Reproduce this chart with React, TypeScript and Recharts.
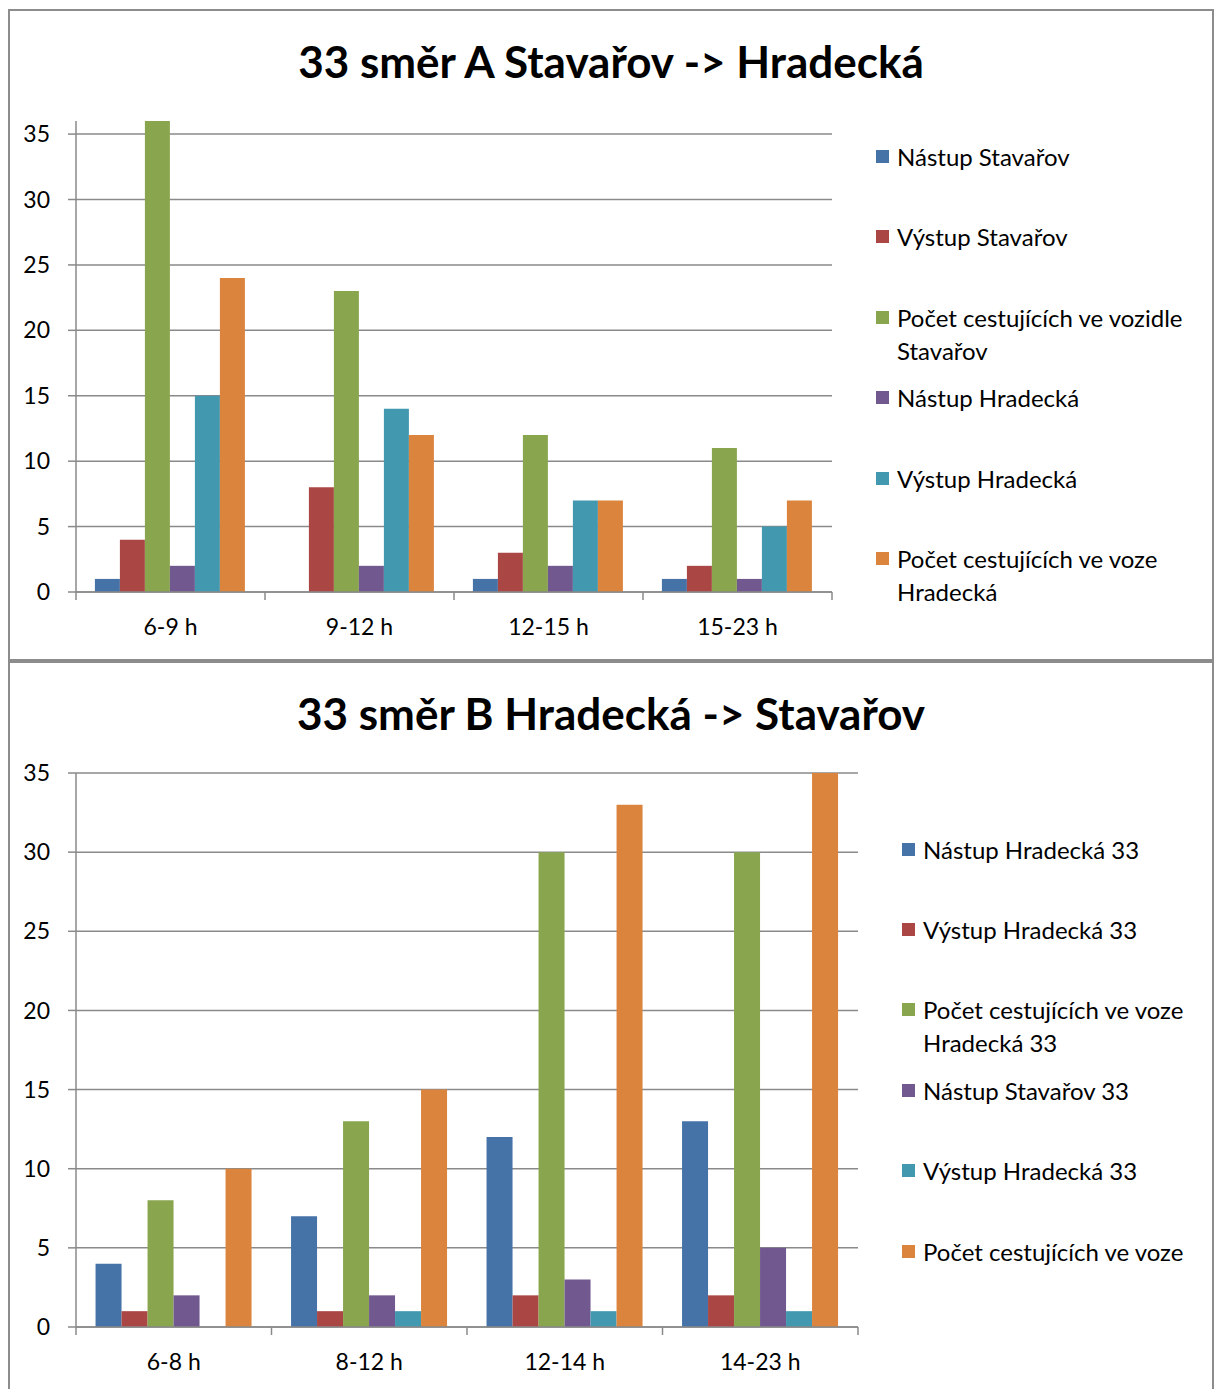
import React from 'react';
import { BarChart, Bar, XAxis, YAxis, CartesianGrid } from 'recharts';

// ---- Chart A data ----
const titleA = '33 směr A Stavařov -> Hradecká';
const catsA = ['6-9 h', '9-12 h', '12-15 h', '15-23 h'];
const namesA = [
  'Nástup Stavařov',
  'Výstup Stavařov',
  'Počet cestujících ve vozidle Stavařov',
  'Nástup Hradecká',
  'Výstup Hradecká',
  'Počet cestujících ve voze Hradecká',
];
const a1 = [1, 0, 1, 1];
const a2 = [4, 8, 3, 2];
const a3 = [36, 23, 12, 11];
const a4 = [2, 2, 2, 1];
const a5 = [15, 14, 7, 5];
const a6 = [24, 12, 7, 7];

// ---- Chart B data ----
const titleB = '33 směr B Hradecká -> Stavařov';
const catsB = ['6-8 h', '8-12 h', '12-14 h', '14-23 h'];
const namesB = [
  'Nástup Hradecká 33',
  'Výstup Hradecká 33',
  'Počet cestujících ve voze Hradecká 33',
  'Nástup Stavařov 33',
  'Výstup Hradecká 33',
  'Počet cestujících ve voze',
];
const b1 = [4, 7, 12, 13];
const b2 = [1, 1, 2, 2];
const b3 = [8, 13, 30, 30];
const b4 = [2, 2, 3, 5];
const b5 = [0, 1, 1, 1];
const b6 = [10, 15, 33, 35];

const yTicks = [0, 5, 10, 15, 20, 25, 30, 35];
const colors = ['#4572A7', '#AA4643', '#89A54E', '#71588F', '#4198AF', '#DB843D'];
const FONT = 'Lato, "Open Sans", sans-serif';
const GRID = '#8a8a8a';

function buildRows(cats: string[], series: number[][]) {
  return cats.map((c, i) => {
    const row: any = { cat: c };
    series.forEach((s, k) => (row['s' + k] = s[i]));
    return row;
  });
}

const TICK_SIZE = 8;
const TICK_MARGIN = 19;
const Y_W = 66;

const makeTick = (band: number, count: number) => (props: any) => {
  const { x, y, payload, index } = props;
  const axisY = y - TICK_SIZE - TICK_MARGIN;
  return (
    <g>
      <line x1={x - band / 2} x2={x - band / 2} y1={axisY} y2={axisY + 8} stroke={GRID} strokeWidth={1.5} />
      {index === count - 1 && (
        <line x1={x + band / 2} x2={x + band / 2} y1={axisY} y2={axisY + 8} stroke={GRID} strokeWidth={1.5} />
      )}
      <text x={x} y={y} dy="0.71em" textAnchor="middle" fontSize={23} fontFamily={FONT} fill="#000">
        {payload.value}
      </text>
    </g>
  );
};

type PanelProps = {
  title: string;
  cats: string[];
  names: string[];
  series: number[][];
  top: number;
  outerH: number;
  chartH: number;
  rightMargin: number;
  bottomPlot: number;
  yMax: number;
  legendTop: number;
  legendLeft: number;
  legendSpacing: number;
  bottomBorder: boolean;
};

function Panel(p: PanelProps) {
  const W = 1202;
  const rows = buildRows(p.cats, p.series);
  const plotW = W - Y_W - p.rightMargin;
  const band = plotW / p.cats.length;
  const xAxisH = 50;
  const B = '2px solid #8c8c8c';
  return (
    <div
      style={{
        position: 'absolute',
        left: 0,
        top: p.top,
        width: W,
        height: p.outerH,
        borderLeft: B,
        borderRight: B,
        borderTop: B,
        borderBottom: p.bottomBorder ? B : 'none',
        background: '#fff',
        overflow: 'hidden',
      }}
    >
      <div
        style={{
          position: 'absolute',
          left: 0,
          width: W,
          top: 24,
          textAlign: 'center',
          fontFamily: FONT,
          fontWeight: 'bold',
          fontSize: 44,
          lineHeight: '52px',
          color: '#000',
        }}
      >
        {p.title}
      </div>
      <div
        style={{
          position: 'absolute',
          left: p.legendLeft,
          top: p.legendTop,
          fontFamily: FONT,
          fontSize: 24,
          color: '#000',
        }}
      >
        {p.names.map((n, i) => (
          <div
            key={i}
            style={{ position: 'absolute', left: 0, top: i * p.legendSpacing, width: 316, display: 'flex', lineHeight: '33px' }}
          >
            <div style={{ width: 13, height: 13, background: colors[i], marginTop: 10, marginRight: 8, flexShrink: 0 }} />
            <div style={{ width: 295 }}>{n}</div>
          </div>
        ))}
      </div>
      <div style={{ position: 'absolute', left: 0, top: 0 }}>
        <BarChart
          width={W}
          height={p.chartH}
          data={rows}
          margin={{ top: 110, right: p.rightMargin, left: 0, bottom: p.chartH - p.bottomPlot - xAxisH }}
          barCategoryGap="10%"
          barGap={0}
        >
          <CartesianGrid vertical={false} horizontalValues={yTicks} stroke={GRID} strokeWidth={1.5} />
          <XAxis
            dataKey="cat"
            stroke={GRID}
            strokeWidth={1.5}
            tickLine={false}
            tickSize={TICK_SIZE}
            tickMargin={TICK_MARGIN}
            height={xAxisH}
            interval={0}
            tick={makeTick(band, p.cats.length)}
          />
          <YAxis
            width={Y_W}
            domain={[0, p.yMax]}
            ticks={yTicks}
            interval={0}
            stroke={GRID}
            strokeWidth={1.5}
            tickSize={8}
            tickMargin={18}
            tick={{ fontSize: 23, fontFamily: FONT, fill: '#000' }}
          />
          {p.names.map((n, k) => (
            <Bar key={k} dataKey={'s' + k} name={n} fill={colors[k]} isAnimationActive={false} />
          ))}
        </BarChart>
      </div>
    </div>
  );
}

export default function App() {
  return (
    <div style={{ position: 'relative', width: 1206, height: 1381 }}>
      <Panel
        title={titleA}
        cats={catsA}
        names={namesA}
        series={[a1, a2, a3, a4, a5, a6]}
        top={1}
        outerH={648}
        chartH={648}
        rightMargin={380}
        bottomPlot={581}
        yMax={36}
        legendTop={128.5}
        legendLeft={866}
        legendSpacing={80.5}
        bottomBorder={true}
      />
      <Panel
        title={titleB}
        cats={catsB}
        names={namesB}
        series={[b1, b2, b3, b4, b5, b6]}
        top={653}
        outerH={726}
        chartH={726}
        rightMargin={354}
        bottomPlot={664}
        yMax={35}
        legendTop={169.5}
        legendLeft={892}
        legendSpacing={80.4}
        bottomBorder={false}
      />
    </div>
  );
}
